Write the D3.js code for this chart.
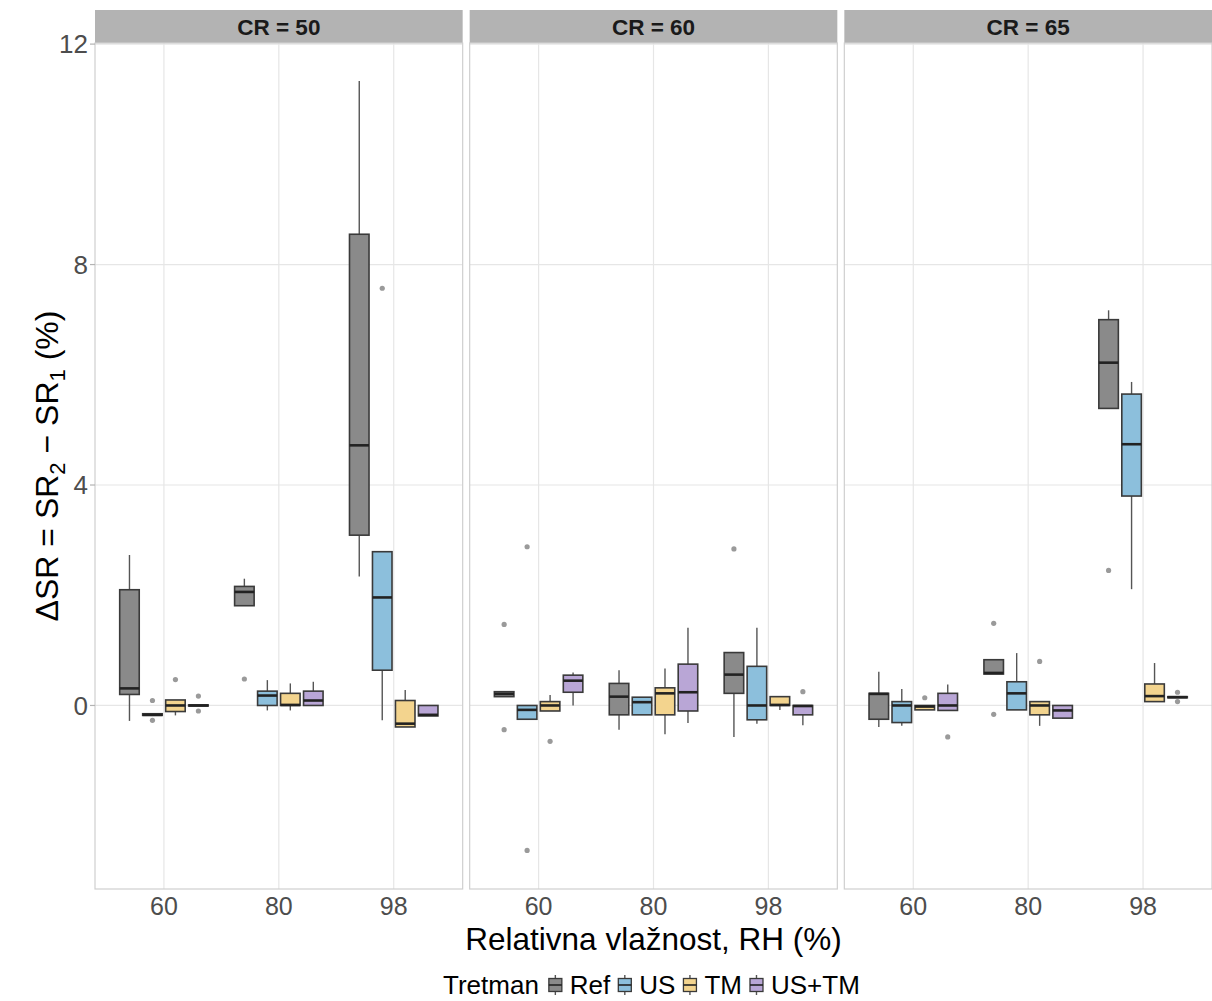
<!DOCTYPE html>
<html>
<head>
<meta charset="utf-8">
<script src="https://cdn.jsdelivr.net/npm/d3@7"></script>
<style>
  html, body { margin: 0; padding: 0; background: #fff; }
  svg { display: block; font-family: "Liberation Sans", Arial, sans-serif; }
</style>
</head>
<body>
<svg id="chart" width="1212" height="1001"></svg>
<script>
// ---------------- data ----------------
const facets = ["CR = 50", "CR = 60", "CR = 65"];
const rhLevels = ["60", "80", "98"];
const treatments = ["Ref", "US", "TM", "US+TM"];
const yTicks = [0, 4, 8, 12];

// stats per treatment: [lowerWhisker, q1, median, q3, upperWhisker]
// order: CR50 (RH60, RH80, RH98), CR60 (...), CR65 (...)
const refStats = [
  [-0.28, 0.20, 0.31, 2.10, 2.73], [1.81, 1.81, 2.06, 2.16, 2.30], [2.34, 3.09, 4.72, 8.55, 11.33],
  [0.16, 0.16, 0.21, 0.25, 0.25], [-0.44, -0.17, 0.16, 0.40, 0.64], [-0.57, 0.22, 0.56, 0.96, 0.96],
  [-0.39, -0.25, 0.21, 0.22, 0.61], [0.57, 0.57, 0.59, 0.83, 0.83], [5.39, 5.39, 6.22, 7.00, 7.17]
];
const usStats = [
  [-0.18, -0.18, -0.17, -0.15, -0.15], [-0.09, 0.00, 0.18, 0.26, 0.46], [-0.27, 0.64, 1.96, 2.79, 2.79],
  [-0.25, -0.25, -0.08, 0.00, 0.00], [-0.17, -0.17, 0.06, 0.15, 0.15], [-0.33, -0.26, 0.00, 0.71, 1.41],
  [-0.37, -0.31, 0.00, 0.07, 0.30], [-0.08, -0.08, 0.22, 0.43, 0.95], [2.11, 3.80, 4.74, 5.65, 5.87]
];
const tmStats = [
  [-0.18, -0.11, 0.00, 0.10, 0.10], [-0.09, 0.00, 0.01, 0.22, 0.40], [-0.39, -0.39, -0.33, 0.09, 0.28],
  [-0.10, -0.10, 0.00, 0.07, 0.19], [-0.52, -0.17, 0.22, 0.32, 0.67], [-0.08, 0.00, 0.01, 0.16, 0.16],
  [-0.08, -0.08, -0.02, 0.00, 0.00], [-0.37, -0.17, 0.00, 0.07, 0.07], [0.07, 0.07, 0.17, 0.39, 0.77]
];
const ustmStats = [
  [-0.01, -0.01, 0.00, 0.01, 0.01], [0.00, 0.00, 0.09, 0.26, 0.43], [-0.19, -0.19, -0.17, 0.00, 0.00],
  [0.00, 0.24, 0.45, 0.55, 0.60], [-0.32, -0.10, 0.24, 0.75, 1.41], [-0.36, -0.17, -0.01, 0.00, 0.00],
  [-0.09, -0.09, 0.00, 0.22, 0.38], [-0.23, -0.23, -0.09, 0.00, 0.00], [0.14, 0.14, 0.15, 0.16, 0.16]
];
// outliers, same order
const refOutliers = [[], [0.48], [], [1.47, -0.44], [], [2.84], [], [1.49, -0.16], [2.45]];
const usOutliers = [[0.09, -0.27], [], [7.57], [2.88, -2.63], [], [], [], [], []];
const tmOutliers = [[0.47], [], [], [-0.65], [], [], [0.14], [0.80], []];
const ustmOutliers = [[0.17, -0.10], [], [], [], [], [0.25], [-0.57], [], [0.24, 0.07]];

const statsByTreatment = [refStats, usStats, tmStats, ustmStats];
const outliersByTreatment = [refOutliers, usOutliers, tmOutliers, ustmOutliers];
const fillColors = ["#8a8a8a", "#8cbfdc", "#f3d48e", "#b9a6d6"];

// ---------------- layout ----------------
const svg = d3.select("#chart");
const plotLeft = 95, plotRight = 1212, gap = 7;
const stripTop = 10, panelTop = 43, panelBottom = 889;
const panelW = (plotRight - plotLeft - 2 * gap) / 3;

const y = d3.scaleLinear().domain([-3.33, 12.02]).range([panelBottom, panelTop]);
const dodge = 0.2, boxHalf = 0.085;

facets.forEach((facet, fi) => {
  const x0 = plotLeft + fi * (panelW + gap);
  const x = d3.scaleLinear().domain([0.4, 3.6]).range([x0, x0 + panelW]);
  const g = svg.append("g");

  // strip
  g.append("rect").attr("x", x0).attr("y", stripTop).attr("width", panelW)
    .attr("height", panelTop - stripTop).attr("fill", "#b3b3b3");
  g.append("text").attr("x", x0 + panelW / 2).attr("y", (stripTop + panelTop) / 2)
    .attr("dy", "0.36em").attr("text-anchor", "middle")
    .attr("font-size", 22.5).attr("font-weight", "bold").attr("fill", "#1a1a1a").text(facet);

  // grid
  g.selectAll(".hg").data(yTicks).join("line")
    .attr("x1", x0).attr("x2", x0 + panelW)
    .attr("y1", d => y(d)).attr("y2", d => y(d))
    .attr("stroke", "#e6e6e6").attr("stroke-width", 1.2);
  g.selectAll(".vg").data(rhLevels).join("line")
    .attr("x1", (d, i) => x(i + 1)).attr("x2", (d, i) => x(i + 1))
    .attr("y1", panelTop).attr("y2", panelBottom)
    .attr("stroke", "#e6e6e6").attr("stroke-width", 1.2);

  // boxes
  rhLevels.forEach((rh, ri) => {
    const idx = fi * 3 + ri;
    treatments.forEach((t, ti) => {
      const s = statsByTreatment[ti][idx];
      const cx = ri + 1 + (ti - 1.5) * dodge;
      const xl = x(cx - boxHalf), xr = x(cx + boxHalf), xc = x(cx);
      const bg = g.append("g");
      // whiskers
      bg.append("line").attr("x1", xc).attr("x2", xc).attr("y1", y(s[3])).attr("y2", y(s[4]))
        .attr("stroke", "#555").attr("stroke-width", 1.4);
      bg.append("line").attr("x1", xc).attr("x2", xc).attr("y1", y(s[1])).attr("y2", y(s[0]))
        .attr("stroke", "#555").attr("stroke-width", 1.4);
      // box
      bg.append("rect").attr("x", xl).attr("y", y(s[3])).attr("width", xr - xl)
        .attr("height", Math.max(0, y(s[1]) - y(s[3])))
        .attr("fill", fillColors[ti]).attr("stroke", "#3a3a3a").attr("stroke-width", 1.6);
      // median
      bg.append("line").attr("x1", xl).attr("x2", xr).attr("y1", y(s[2])).attr("y2", y(s[2]))
        .attr("stroke", "#222").attr("stroke-width", 2.6);
      // outliers
      bg.selectAll("circle").data(outliersByTreatment[ti][idx]).join("circle")
        .attr("cx", xc).attr("cy", d => y(d)).attr("r", 2.6).attr("fill", "#9a9a9a");
    });
  });

  // panel border
  g.append("rect").attr("x", x0).attr("y", panelTop).attr("width", panelW)
    .attr("height", panelBottom - panelTop).attr("fill", "none")
    .attr("stroke", "#cfcfcf").attr("stroke-width", 1.2);

  // x tick labels
  g.selectAll(".xt").data(rhLevels).join("text")
    .attr("x", (d, i) => x(i + 1)).attr("y", 915)
    .attr("text-anchor", "middle").attr("font-size", 25).attr("fill", "#4d4d4d").text(d => d);
});

// y axis ticks & labels
const ya = svg.append("g");
ya.selectAll("line").data(yTicks).join("line")
  .attr("x1", plotLeft - 5).attr("x2", plotLeft).attr("y1", d => y(d)).attr("y2", d => y(d))
  .attr("stroke", "#b3b3b3").attr("stroke-width", 1.2);
ya.selectAll("text").data(yTicks).join("text")
  .attr("x", plotLeft - 7).attr("y", d => y(d)).attr("dy", "0.36em")
  .attr("text-anchor", "end").attr("font-size", 26).attr("fill", "#4d4d4d").text(d => d);

// y title
const yt = svg.append("text")
  .attr("transform", `translate(46, ${(panelTop + panelBottom) / 2}) rotate(-90)`)
  .attr("text-anchor", "middle").attr("dy", "0.36em").attr("font-size", 32).attr("fill", "#000");
yt.append("tspan").text("ΔSR = SR");
yt.append("tspan").attr("font-size", 22).attr("dy", 7).text("2");
yt.append("tspan").attr("dy", -7).text(" − SR");
yt.append("tspan").attr("font-size", 22).attr("dy", 7).text("1");
yt.append("tspan").attr("dy", -7).text(" (%)");

// x title
svg.append("text").attr("x", (plotLeft + plotRight) / 2).attr("y", 950)
  .attr("text-anchor", "middle").attr("font-size", 31.5).attr("fill", "#000")
  .text("Relativna vlažnost, RH (%)");

// legend
const lg = svg.append("g");
let lx = 443;
const ly = 985;
const tt = lg.append("text").attr("x", lx).attr("y", ly).attr("dy", "0.36em")
  .attr("font-size", 26).attr("fill", "#000").text("Tretman");
lx = lx + tt.node().getComputedTextLength() + 9;
treatments.forEach((t, ti) => {
  const kg = lg.append("g").attr("transform", `translate(${lx},${ly})`);
  kg.append("line").attr("x1", 7.5).attr("x2", 7.5).attr("y1", -10).attr("y2", 10)
    .attr("stroke", "#555").attr("stroke-width", 1.4);
  kg.append("rect").attr("x", 1).attr("y", -6.5).attr("width", 13).attr("height", 13)
    .attr("fill", fillColors[ti]).attr("stroke", "#3a3a3a").attr("stroke-width", 1.3);
  kg.append("line").attr("x1", 1).attr("x2", 14).attr("y1", 0).attr("y2", 0)
    .attr("stroke", "#222").attr("stroke-width", 1.6);
  const tx = lg.append("text").attr("x", lx + 22).attr("y", ly).attr("dy", "0.36em")
    .attr("font-size", 26).attr("fill", "#000").text(t);
  lx += 22 + tx.node().getComputedTextLength() + 7;
});
</script>
</body>
</html>
